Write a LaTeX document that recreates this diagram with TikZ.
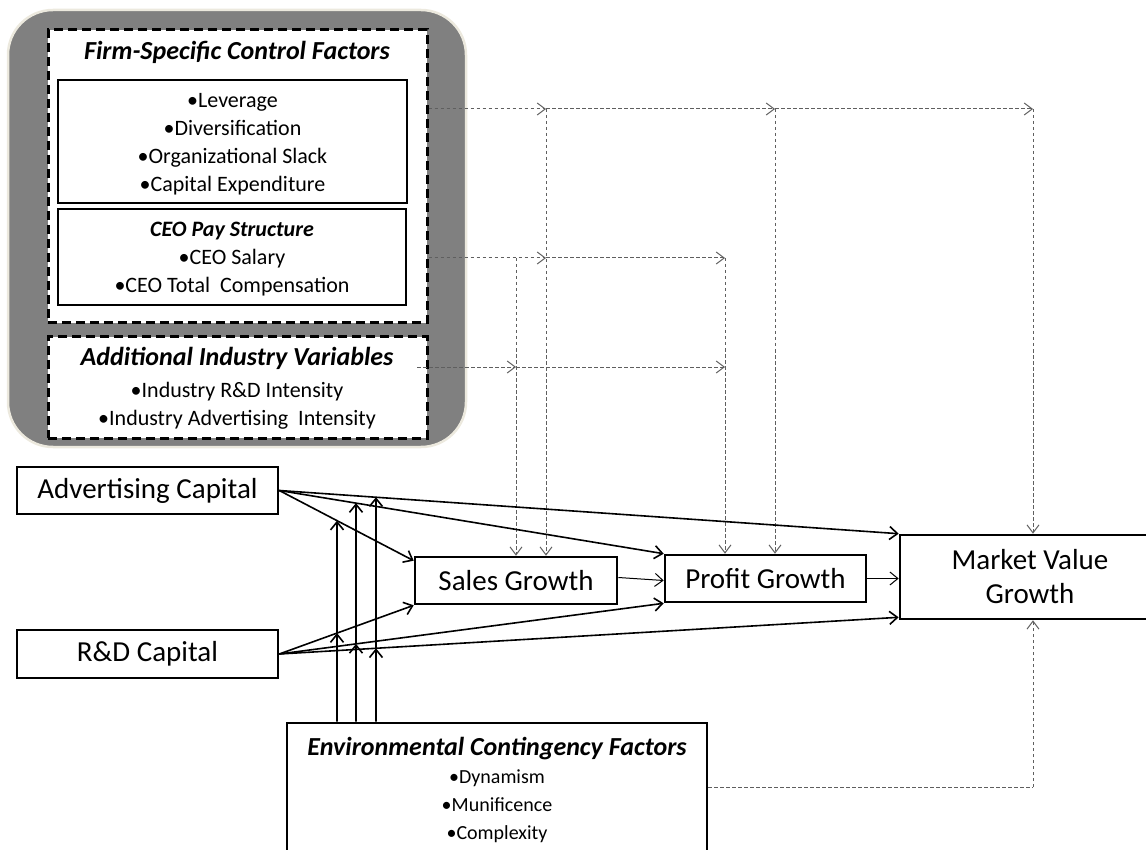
\documentclass[tikz,border=0pt]{standalone}
\usepackage{fontspec}
\setmainfont{Carlito}
\usetikzlibrary{arrows.meta}
\definecolor{bggray}{RGB}{128,128,128}
\definecolor{beige}{RGB}{236,233,222}
\definecolor{dgray}{RGB}{95,95,95}
\tikzset{
 box/.style={draw=black, line width=2.6pt, fill=white, inner sep=0pt},
 dbox/.style={draw=black, line width=3pt, dash pattern=on 9pt off 5pt, fill=white, inner sep=0pt},
 ibox/.style={draw=black, line width=2.4pt, fill=white, inner sep=0pt},
 tipb/.style={-{Straight Barb[length=8pt,width=13pt]}},
 conn/.style={line width=1.6pt, tipb},
 thinconn/.style={line width=1pt, tipb},
 dline/.style={draw=dgray, line width=1pt, dash pattern=on 3.5pt off 2.5pt},
 dconn/.style={dline, -{Straight Barb[length=8pt,width=12pt]}},
 ttl/.style={font=\fontsize{26}{30}\selectfont\bfseries\itshape, anchor=base, inner sep=0pt},
 sttl/.style={font=\fontsize{22}{26}\selectfont\bfseries\itshape, anchor=base, inner sep=0pt},
 itm/.style={font=\fontsize{22}{26}\selectfont, anchor=base, inner sep=0pt},
 eitm/.style={font=\fontsize{20}{24}\selectfont, anchor=base, inner sep=0pt},
 big/.style={font=\fontsize{29}{34}\selectfont, align=center},
}
\begin{document}
\begin{tikzpicture}[x=1pt,y=-1pt]
\useasboundingbox (0,0) rectangle (1146,850);
\clip (0,0) rectangle (1146,850);
% background panel
\draw[fill=bggray, draw=beige, line width=2.5pt, rounded corners=45pt] (8,10) rectangle (466,447);
% control factor boxes
\node[dbox, minimum width=379pt, minimum height=293pt] (firm) at (237.5,176.5) {};
\node[ibox, minimum width=349pt, minimum height=123pt] (box1) at (232.5,141.5) {};
\node[ibox, minimum width=348pt, minimum height=96pt] (box2) at (232,257) {};
\node[dbox, minimum width=379pt, minimum height=101pt] (ind) at (237.5,387.5) {};
\node[ttl] (firmT) at (237,60) {Firm-Specific Control Factors};
\node[itm] (lev) at (232.5,108) {•Leverage};
\node[itm] (div) at (232.5,136) {•Diversification};
\node[itm] (slack) at (232.5,164) {•Organizational Slack};
\node[itm] (capex) at (232.5,192) {•Capital Expenditure};
\node[sttl] (ceoT) at (232,237) {CEO Pay Structure};
\node[itm] (sal) at (232,265) {•CEO Salary};
\node[itm] (tot) at (232,293) {•CEO Total\ \ Compensation};
\node[ttl] (indT) at (237,366) {Additional Industry Variables};
\node[itm] (rdi) at (237,397) {•Industry R\&D Intensity};
\node[itm] (advi) at (237,425) {•Industry Advertising\ \ Intensity};
% main nodes
\node[box, big, minimum width=261pt, minimum height=47pt] (adv) at (147.5,490.5) {Advertising Capital};
\node[box, big, minimum width=261pt, minimum height=48pt] (rd) at (147.5,654) {R\&D Capital};
\node[box, big, minimum width=202pt, minimum height=47pt] (sales) at (516,580.5) {Sales Growth};
\node[box, big, minimum width=201pt, minimum height=47pt] (profit) at (765.5,578.5) {Profit Growth};
\node[box, big, minimum width=260pt, minimum height=84pt] (mvg) at (1030,577) {Market Value\\Growth};
\node[box, minimum width=420pt, minimum height=157pt] (env) at (497,801.5) {};
\node[ttl] (envT) at (497,755) {Environmental Contingency Factors};
\node[eitm] (dyn) at (497,783) {•Dynamism};
\node[eitm] (mun) at (497,811) {•Munificence};
\node[eitm] (cpx) at (497,839) {•Complexity};
% dashed control connectors
\coordinate (L1s) at (firm.east |- 0,109);
\coordinate (L1a) at (546,109);
\coordinate (L1b) at (775,109);
\coordinate (L1c) at (1033,109);
\draw[dconn] (L1s) -- (L1a);
\draw[dconn] (L1a) -- (L1b);
\draw[dconn] (L1b) -- (L1c);
\draw[dconn] (L1a) -- (L1a |- sales.north);
\draw[dconn] (L1b) -- (L1b |- profit.north);
\draw[dconn] (L1c) -- (L1c |- mvg.north);
\coordinate (L2s) at (firm.east |- 0,258);
\coordinate (L2x) at (516,258);
\coordinate (L2a) at (546,258);
\coordinate (L2b) at (725,258);
\draw[dconn] (L2s) -- (L2a);
\draw[dconn] (L2a) -- (L2b);
\draw[dconn] (L2x) -- (L2x |- sales.north);
\draw[dconn] (L2b) -- (L2b |- profit.north);
\coordinate (L3s) at (417,367);
\coordinate (L3a) at (516,367);
\coordinate (L3b) at (725,367);
\draw[dconn] (L3s) -- (L3a);
\draw[dconn] (L3a) -- (L3b);
\coordinate (L4s) at (env.east |- 0,787);
\coordinate (L4a) at (1033,787);
\draw[dline] (L4s) -- (L4a);
\draw[dconn] (L4a) -- (L4a |- mvg.south);
% solid connectors
\coordinate (advE) at (adv.east);
\coordinate (rdE) at (rd.east);
\coordinate (sNW) at ([yshift=-5pt]sales.north west);
\coordinate (sSW) at (sales.south west);
\coordinate (pNW) at (profit.north west);
\coordinate (pSW) at (profit.south west);
\coordinate (mNW) at (mvg.north west);
\coordinate (mSW) at ([yshift=3pt]mvg.south west);
\draw[conn] (advE) -- (sNW);
\draw[conn] (advE) -- (pNW);
\draw[conn] (advE) -- (mNW);
\draw[conn] (rdE) -- (sSW);
\draw[conn] (rdE) -- (pSW);
\draw[conn] (rdE) -- (mSW);
\draw[thinconn] ([yshift=3pt]sales.east) -- ([yshift=-2pt]profit.west);
\draw[thinconn] (profit.east) -- (profit.east -| mvg.west);
% moderating arrows
\coordinate (v1b) at (337,0 |- env.north);
\coordinate (v1t) at (337,400);
\coordinate (v2b) at (356,0 |- env.north);
\coordinate (v2t) at (356,400);
\coordinate (v3b) at (376,0 |- env.north);
\coordinate (v3t) at (376,400);
\coordinate (v1lo) at (intersection of v1b--v1t and rdE--sSW);
\coordinate (v1hi) at (intersection of v1b--v1t and advE--sNW);
\coordinate (v2lo) at (intersection of v2b--v2t and rdE--pSW);
\coordinate (v2hi) at (intersection of v2b--v2t and advE--pNW);
\coordinate (v3lo) at (intersection of v3b--v3t and rdE--mSW);
\coordinate (v3hi) at (intersection of v3b--v3t and advE--mNW);
\draw[conn] (v1b) -- (v1lo);
\draw[conn] (v1lo) -- (v1hi);
\draw[conn] (v2b) -- (v2lo);
\draw[conn] (v2lo) -- (v2hi);
\draw[conn] (v3b) -- (v3lo);
\draw[conn] (v3lo) -- (v3hi);
\end{tikzpicture}
\end{document}
